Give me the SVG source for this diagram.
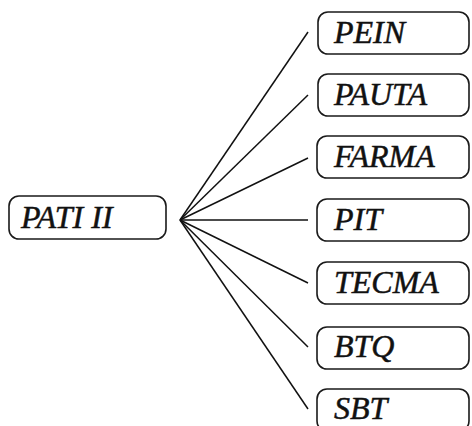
<svg xmlns="http://www.w3.org/2000/svg" width="472" height="426" viewBox="0 0 472 426">
<style>
.box{fill:#fff;stroke:#1a1a1a;stroke-width:1.6}
.t{font-family:'Liberation Serif','DejaVu Serif',serif;font-style:italic;font-size:32px;fill:#111;stroke:#111;stroke-width:0.5}
.c line{stroke:#111;stroke-width:1.5}
</style>
<rect width="472" height="426" fill="#fff"/>
<g class="c" id="connectors">
<line x1="180" y1="220" x2="308" y2="32"/>
<line x1="180" y1="220" x2="308" y2="95"/>
<line x1="180" y1="220" x2="308" y2="158"/>
<line x1="180" y1="220" x2="308" y2="220"/>
<line x1="180" y1="220" x2="308" y2="283"/>
<line x1="180" y1="220" x2="308" y2="347"/>
<line x1="180" y1="220" x2="308" y2="409"/>
</g>
<g id="pati"><rect class="box" x="9" y="196" width="157" height="43" rx="10"/><text class="t" x="21" y="228">PATI II</text></g>
<g id="pein"><rect class="box" x="318" y="12" width="151" height="42" rx="10"/><text class="t" x="334" y="43">PEIN</text></g>
<g id="pauta"><rect class="box" x="318" y="74" width="151" height="42" rx="10"/><text class="t" x="334" y="105">PAUTA</text></g>
<g id="farma"><rect class="box" x="317" y="136" width="152" height="42" rx="10"/><text class="t" x="334" y="167">FARMA</text></g>
<g id="pit"><rect class="box" x="317" y="199" width="152" height="42" rx="10"/><text class="t" x="334" y="230">PIT</text></g>
<g id="tecma"><rect class="box" x="317" y="262" width="152" height="42" rx="10"/><text class="t" x="334" y="293">TECMA</text></g>
<g id="btq"><rect class="box" x="317" y="327" width="152" height="42" rx="10"/><text class="t" x="334" y="357">BTQ</text></g>
<g id="sbt"><rect class="box" x="317" y="389" width="152" height="42" rx="10"/><text class="t" x="334" y="419">SBT</text></g>
</svg>
